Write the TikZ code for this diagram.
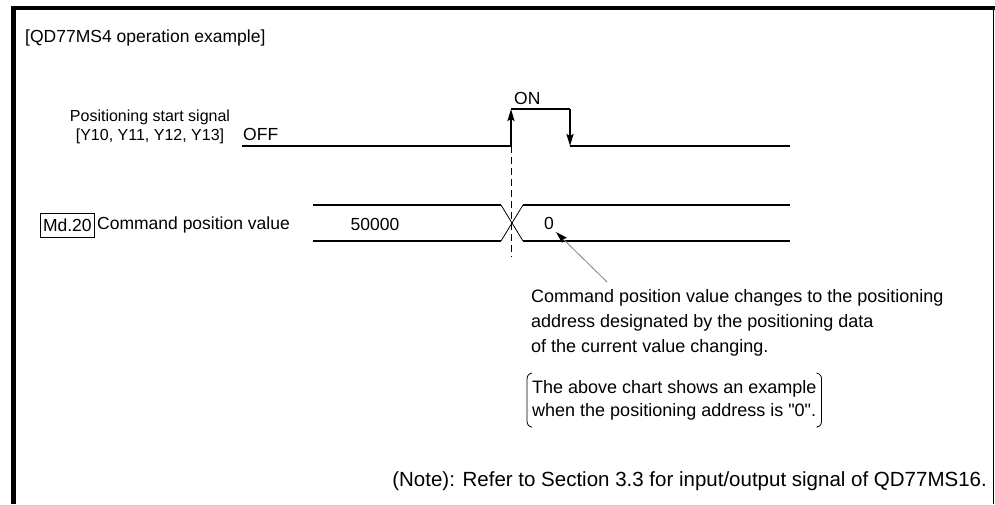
\documentclass[tikz,border=0pt]{standalone}
\usepackage{fontspec}
\setmainfont{Liberation Sans}
\usetikzlibrary{arrows.meta}
\begin{document}
\begin{tikzpicture}[x=1pt,y=-1pt,
  every node/.style={font=\fontsize{17.5}{20}\selectfont, inner sep=0pt},
  frame/.style={line width=4.5pt},
  sig/.style={line width=2pt},
  edge tip/.style={-{Stealth[length=12pt,width=7pt,inset=2pt]}},
  xline/.style={line width=0.8pt},
  guide/.style={line width=1pt, dash pattern=on 7pt off 4pt},
  pointer/.style={draw=gray, line width=0.8pt, -{Stealth[length=12pt,width=7pt,inset=2pt,color=black]}},
  brk/.style={line width=0.8pt},
  para/.style={align=left, font=\fontsize{18}{25}\selectfont}]
\useasboundingbox (0,0) rectangle (995,504);
% frame
\coordinate (fl0) at (13.5,504);
\coordinate (fl1) at (13.5,6);
\coordinate (ft0) at (11.25,8);
\coordinate (ft1) at (995,8);
\coordinate (fr0) at (993.5,8);
\coordinate (fr1) at (993.5,504);
\draw[frame] (fl0) -- (fl1);
\draw[line width=4pt] (ft0) -- (ft1);
\draw[line width=1.5pt] (fr0) -- (fr1);
% title
\node[anchor=base west] (title) at (25,42) {[QD77MS4 operation example]};
% start signal
\node[align=center, font=\fontsize{16}{19}\selectfont, anchor=base] (sname) at (150,140) {Positioning start signal\\{[Y10, Y11, Y12, Y13]}};
\node[anchor=base west] (off) at (243,140) {OFF};
\node[anchor=base west] (on) at (514,104) {ON};
\coordinate (s0) at (242,146);
\coordinate (s1) at (511,146);
\coordinate (s2) at (511,109);
\coordinate (s3) at (570,109);
\coordinate (s4) at (570,146);
\coordinate (s5) at (790,146);
\draw[sig] (s0) -- (s1);
\draw[sig, edge tip] (s1) -- (s2);
\draw[sig] (s2) -- (s3);
\draw[sig, edge tip] (s3) -- (s4);
\draw[sig] (s4) -- (s5);
% guide
\coordinate (g1) at (511,257);
\draw[guide] (s1) -- (g1);
% command position value
\node[draw, line width=1pt, inner xsep=2.5pt, minimum height=24pt, anchor=west] (md) at (40,225) {Md.20};
\node[anchor=west] (cpv) at (97,225) {Command position value};
\coordinate (b0t) at (313,205);
\coordinate (b1t) at (501,205);
\coordinate (b2t) at (523,205);
\coordinate (b3t) at (790,205);
\coordinate (b0b) at (313,241);
\coordinate (b1b) at (501,241);
\coordinate (b2b) at (523,241);
\coordinate (b3b) at (790,241);
\draw[sig] (b0t) -- (b1t);
\draw[sig] (b0b) -- (b1b);
\draw[sig] (b2t) -- (b3t);
\draw[sig] (b2b) -- (b3b);
\draw[xline] (b1t) -- (b2b);
\draw[xline] (b1b) -- (b2t);
\node (v1) at (375,224) {50000};
\node (v2) at (549,223) {0};
% annotation
\coordinate (ptail) at (607,282);
\coordinate (ptip) at (556,232);
\draw[pointer] (ptail) -- (ptip);
\node[para, anchor=north west] (note1) at (531,289.5) {Command position value changes to the positioning\\address designated by the positioning data\\of the current value changing.};
\node[para, anchor=north west, inner xsep=5pt, inner ysep=7pt, font=\fontsize{18}{23}\selectfont] (ex) at (527,373) {The above chart shows an example\\when the positioning address is \textquotedbl 0\textquotedbl.};
\draw[brk] ([xshift=5pt]ex.north west) .. controls ([xshift=1pt,yshift=-1pt]ex.north west) and ([yshift=-3pt]ex.north west) .. ([yshift=-7pt]ex.north west) -- ([yshift=7pt]ex.south west) .. controls ([yshift=3pt]ex.south west) and ([xshift=1pt,yshift=1pt]ex.south west) .. ([xshift=5pt]ex.south west);
\draw[brk] ([xshift=-5pt]ex.north east) .. controls ([xshift=-1pt,yshift=-1pt]ex.north east) and ([yshift=-3pt]ex.north east) .. ([yshift=-7pt]ex.north east) -- ([yshift=7pt]ex.south east) .. controls ([yshift=3pt]ex.south east) and ([xshift=-1pt,yshift=1pt]ex.south east) .. ([xshift=-5pt]ex.south east);
% footnote
\node[anchor=base east, font=\fontsize{20.5}{24}\selectfont] (foot) at (987,486) {(Note): Refer to Section 3.3 for input/output signal of QD77MS16.};
\end{tikzpicture}
\end{document}
